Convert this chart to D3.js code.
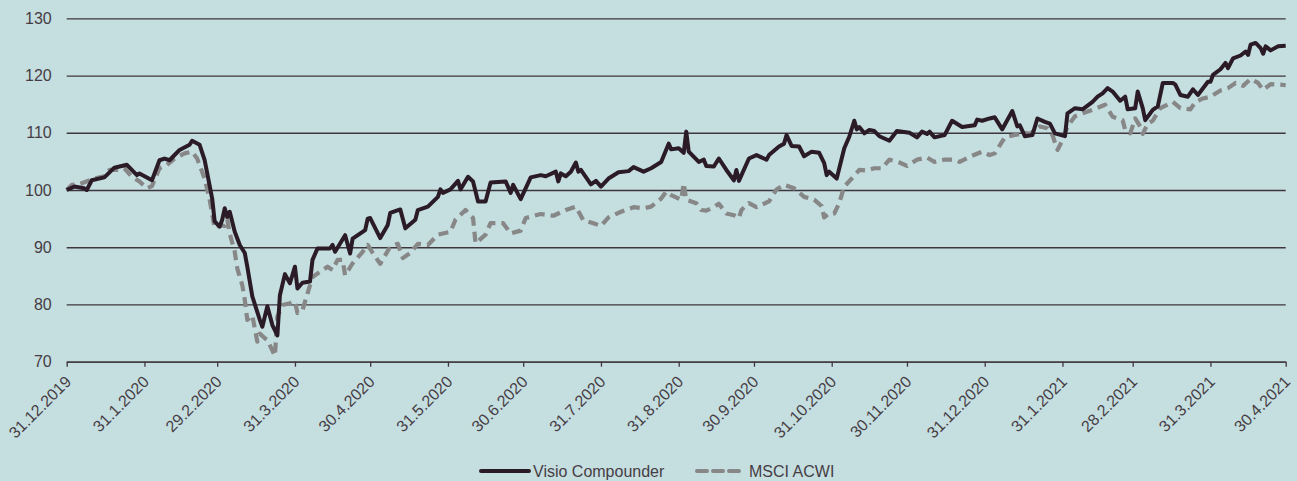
<!DOCTYPE html>
<html lang="de">
  <head>
    <meta charset="utf-8">
    <title>Visio Compounder vs MSCI ACWI</title>
    <script src="https://d3js.org/d3.v7.min.js"></script>
    <style>
      body { margin: 0; background: #c5dee0; }
      svg text { font-family: "Liberation Sans", Arial, sans-serif; fill: #463d44; font-size: 16px; }
    </style>
  </head>
  <body>
    <div id="chart"></div>
    <script>

      var tickDates = ["2019-12-31", "2020-01-31", "2020-02-29", "2020-03-31", "2020-04-30", "2020-05-31",
        "2020-06-30", "2020-07-31", "2020-08-31", "2020-09-30", "2020-10-31", "2020-11-30",
        "2020-12-31", "2021-01-31", "2021-02-28", "2021-03-31", "2021-04-30"];
      var yTicks = [70, 80, 90, 100, 110, 120, 130];
      var seriesNames = ["Visio Compounder", "MSCI ACWI"];

      var visio = [
        ["2019-12-31",100],["2020-01-03",100.6],["2020-01-07",100.3],["2020-01-08",100],["2020-01-10",101.7],
        ["2020-01-15",102.2],["2020-01-19",103.9],["2020-01-24",104.4],["2020-01-28",102.6],["2020-01-29",102.9],
        ["2020-02-03",101.7],["2020-02-06",105.2],["2020-02-08",105.5],["2020-02-10",105.2],["2020-02-14",107],
        ["2020-02-18",107.9],["2020-02-19",108.6],["2020-02-22",107.9],["2020-02-24",105.2],["2020-02-27",98.5],
        ["2020-02-28",94.5],["2020-03-01",93.6],["2020-03-02",94.8],["2020-03-03",96.8],["2020-03-04",95.3],
        ["2020-03-05",96.2],["2020-03-07",92.7],["2020-03-09",90.4],["2020-03-11",89],["2020-03-12",86.6],
        ["2020-03-14",81.4],["2020-03-17",77.3],["2020-03-18",76.1],["2020-03-20",79.7],["2020-03-22",76.4],
        ["2020-03-24",74.6],["2020-03-25",81.6],["2020-03-27",85.3],["2020-03-29",83.7],["2020-03-31",86.6],
        ["2020-04-01",82.8],["2020-04-03",83.8],["2020-04-06",84],["2020-04-07",87.8],["2020-04-09",89.8],
        ["2020-04-14",89.8],["2020-04-15",90.4],["2020-04-16",89.2],["2020-04-20",92.1],["2020-04-22",88.9],
        ["2020-04-23",91.5],["2020-04-28",93],["2020-04-29",95],["2020-04-30",95.1],["2020-05-04",91.6],
        ["2020-05-07",93.9],["2020-05-08",96],["2020-05-12",96.6],["2020-05-14",93.3],["2020-05-18",94.8],
        ["2020-05-19",96.5],["2020-05-23",97.1],["2020-05-27",98.8],["2020-05-28",100.1],["2020-05-29",99.5],
        ["2020-06-01",100.1],["2020-06-04",101.6],["2020-06-05",100.1],["2020-06-08",102.3],["2020-06-10",101.5],
        ["2020-06-12",98],["2020-06-15",98],["2020-06-17",101.3],["2020-06-23",101.5],["2020-06-25",99.5],
        ["2020-06-26",100.9],["2020-06-29",98.4],["2020-07-03",102.2],["2020-07-07",102.6],["2020-07-09",102.4],
        ["2020-07-13",103.2],["2020-07-14",101.5],["2020-07-15",102.9],["2020-07-17",102.4],["2020-07-19",103.2],
        ["2020-07-21",104.8],["2020-07-22",103.2],["2020-07-23",103.5],["2020-07-27",101],["2020-07-29",101.6],
        ["2020-07-31",100.6],["2020-08-03",102],["2020-08-07",103.1],["2020-08-11",103.3],["2020-08-13",104],
        ["2020-08-17",103.2],["2020-08-20",103.8],["2020-08-24",104.9],["2020-08-27",108.1],["2020-08-28",107.1],
        ["2020-08-31",107.3],["2020-09-02",106.5],["2020-09-03",110.2],["2020-09-04",106.7],["2020-09-08",104.9],
        ["2020-09-10",105.3],["2020-09-11",104.2],["2020-09-14",104.1],["2020-09-16",105.5],["2020-09-19",103.5],
        ["2020-09-22",101.7],["2020-09-23",103.5],["2020-09-24",101.6],["2020-09-28",105.5],["2020-10-01",106.1],
        ["2020-10-05",105.3],["2020-10-06",106.1],["2020-10-10",107.6],["2020-10-12",108.1],["2020-10-13",109.6],
        ["2020-10-15",107.7],["2020-10-18",107.6],["2020-10-20",105.9],["2020-10-23",106.7],["2020-10-26",106.5],
        ["2020-10-28",104.7],["2020-10-29",102.6],["2020-10-30",103.2],["2020-11-02",102],["2020-11-05",107.3],
        ["2020-11-07",109.3],["2020-11-09",112.1],["2020-11-10",110.6],["2020-11-11",111],["2020-11-13",109.9],
        ["2020-11-15",110.5],["2020-11-17",110.3],["2020-11-19",109.4],["2020-11-23",108.6],["2020-11-26",110.3],
        ["2020-12-01",110],["2020-12-04",109.2],["2020-12-06",110.2],["2020-12-08",109.8],["2020-12-09",110.2],
        ["2020-12-11",109.2],["2020-12-15",109.6],["2020-12-18",112.1],["2020-12-22",111],["2020-12-27",111.3],
        ["2020-12-28",112.3],["2020-12-30",112.1],["2021-01-02",112.5],["2021-01-04",112.7],["2021-01-07",110.6],
        ["2021-01-11",113.8],["2021-01-13",111.1],["2021-01-14",111.3],["2021-01-16",109.4],["2021-01-19",109.6],
        ["2021-01-21",112.5],["2021-01-24",111.9],["2021-01-26",111.6],["2021-01-28",109.9],["2021-02-01",109.4],
        ["2021-02-02",113.4],["2021-02-05",114.3],["2021-02-08",114.1],["2021-02-12",115.4],["2021-02-14",116.3],
        ["2021-02-16",116.9],["2021-02-18",117.8],["2021-02-20",117.2],["2021-02-23",115.6],["2021-02-25",116.3],
        ["2021-02-26",114.1],["2021-03-01",114.3],["2021-03-02",117.2],["2021-03-04",114.3],["2021-03-05",112.2],
        ["2021-03-08",114],["2021-03-10",114.6],["2021-03-12",118.7],["2021-03-16",118.7],["2021-03-17",118.4],
        ["2021-03-19",116.6],["2021-03-22",116.3],["2021-03-24",117.6],["2021-03-26",116.6],["2021-03-30",118.9],
        ["2021-03-31",118.9],["2021-04-01",120.1],["2021-04-04",121.1],["2021-04-06",122.2],["2021-04-07",121.3],
        ["2021-04-09",123],["2021-04-12",123.5],["2021-04-14",124.2],["2021-04-15",123.6],["2021-04-16",125.4],
        ["2021-04-18",125.7],["2021-04-20",124.8],["2021-04-21",123.8],["2021-04-22",125.1],["2021-04-24",124.4],
        ["2021-04-27",125.1],["2021-04-30",125.2]];

      var msci = [
        ["2019-12-31",100],["2020-01-02",100.9],["2020-01-05",101],["2020-01-11",102],["2020-01-15",102.4],
        ["2020-01-17",103.5],["2020-01-21",103.5],["2020-01-23",103.8],["2020-01-26",102.3],["2020-01-29",101.5],
        ["2020-02-01",100.3],["2020-02-03",100.7],["2020-02-06",103.8],["2020-02-09",104.4],["2020-02-12",105.5],
        ["2020-02-16",106.4],["2020-02-19",106.7],["2020-02-21",105.5],["2020-02-24",102],["2020-02-26",98.3],
        ["2020-02-28",93.3],["2020-03-01",93.9],["2020-03-03",93.7],["2020-03-04",94.9],["2020-03-05",92.4],
        ["2020-03-07",89.2],["2020-03-08",86.3],["2020-03-09",84.8],["2020-03-10",83.4],["2020-03-11",80.8],
        ["2020-03-12",77.3],["2020-03-14",78.1],["2020-03-16",73.5],["2020-03-17",74.9],["2020-03-19",74.1],
        ["2020-03-20",73.8],["2020-03-23",71],["2020-03-24",77.9],["2020-03-26",79.9],["2020-03-29",80.2],
        ["2020-03-31",80.5],["2020-04-01",78.5],["2020-04-03",79],["2020-04-05",81.9],["2020-04-07",84.8],
        ["2020-04-10",85.7],["2020-04-13",86.6],["2020-04-15",86],["2020-04-17",87.8],["2020-04-19",87.8],
        ["2020-04-20",85.1],["2020-04-23",87.2],["2020-04-27",89.2],["2020-04-29",90.4],["2020-05-01",89],
        ["2020-05-04",87.1],["2020-05-08",90.1],["2020-05-11",90.6],["2020-05-13",88.1],["2020-05-16",89],
        ["2020-05-19",90.6],["2020-05-23",90.4],["2020-05-27",92.2],["2020-06-01",92.7],["2020-06-03",94.8],
        ["2020-06-07",96.5],["2020-06-10",95.1],["2020-06-11",90.7],["2020-06-15",92.2],["2020-06-17",94.2],
        ["2020-06-22",94.2],["2020-06-25",92.4],["2020-06-29",92.9],["2020-07-01",95.1],["2020-07-07",95.8],
        ["2020-07-12",95.5],["2020-07-17",96.5],["2020-07-21",97.1],["2020-07-24",94.7],["2020-07-28",94.2],
        ["2020-07-31",93.7],["2020-08-03",95.2],["2020-08-08",96.2],["2020-08-13",97],["2020-08-17",96.8],
        ["2020-08-20",97.1],["2020-08-24",98.5],["2020-08-26",99.7],["2020-08-28",99.1],["2020-09-01",98.3],
        ["2020-09-02",101.2],["2020-09-03",98.3],["2020-09-07",97.7],["2020-09-09",96.5],["2020-09-11",96.4],
        ["2020-09-14",97],["2020-09-16",97.6],["2020-09-19",95.9],["2020-09-22",95.6],["2020-09-24",95.1],
        ["2020-09-25",96.5],["2020-09-28",97.7],["2020-10-01",97],["2020-10-06",98],["2020-10-09",100.1],
        ["2020-10-12",100.9],["2020-10-16",100.3],["2020-10-20",98.8],["2020-10-24",98.3],["2020-10-27",97.2],
        ["2020-10-28",95.2],["2020-10-30",95.9],["2020-11-01",95.9],["2020-11-03",97.7],["2020-11-05",100.6],
        ["2020-11-08",102],["2020-11-11",103.5],["2020-11-14",103.4],["2020-11-17",103.8],["2020-11-20",103.8],
        ["2020-11-23",105.3],["2020-11-27",104.8],["2020-11-30",104.2],["2020-12-04",105.3],["2020-12-08",105.7],
        ["2020-12-11",104.9],["2020-12-15",105.3],["2020-12-19",105.3],["2020-12-21",104.9],["2020-12-25",105.8],
        ["2020-12-30",106.7],["2021-01-02",106.1],["2021-01-04",106.4],["2021-01-06",107.8],["2021-01-08",109.2],
        ["2021-01-12",109.6],["2021-01-16",110],["2021-01-18",109.8],["2021-01-20",110.5],["2021-01-22",111.1],
        ["2021-01-25",110.8],["2021-01-27",109.6],["2021-01-29",107],["2021-01-31",108.7],["2021-02-02",111.1],
        ["2021-02-05",112.9],["2021-02-08",113.4],["2021-02-12",114],["2021-02-17",114.9],["2021-02-20",112.8],
        ["2021-02-24",112.2],["2021-02-25",110.5],["2021-02-27",109.9],["2021-03-01",112.5],["2021-03-03",111.1],
        ["2021-03-04",109.8],["2021-03-06",111.6],["2021-03-08",112.1],["2021-03-11",114.3],["2021-03-16",115.4],
        ["2021-03-19",114.3],["2021-03-23",114.1],["2021-03-25",115.4],["2021-03-28",116],["2021-03-31",116.3],
        ["2021-04-04",117.4],["2021-04-07",117.8],["2021-04-10",118.7],["2021-04-13",118.2],["2021-04-16",119.4],
        ["2021-04-19",118.7],["2021-04-21",117.5],["2021-04-24",118.5],["2021-04-28",118.4],["2021-04-30",118.3]];

      var width = 1297;
      var height = 481;
      var margin = {top: 18.3, left: 66.7, right: 11.3, bottom: 119.3};

      var parseDate = d3.timeParse("%Y-%m-%d");
      var formatTick = d3.timeFormat("%-d.%-m.%Y");

      var svg = d3.select("#chart")
        .append("svg")
        .attr("width", width)
        .attr("height", height);

      var xScale = d3.scaleTime()
        .domain([parseDate(tickDates[0]), parseDate(tickDates[tickDates.length - 1])])
        .range([margin.left, width - margin.right]);

      var yScale = d3.scaleLinear()
        .domain([70, 130])
        .range([height - margin.bottom, margin.top]);

      // horizontal grid with value labels
      var yAxis = svg.append("g")
        .attr("transform", `translate(${margin.left},0)`)
        .call(d3.axisLeft(yScale).tickValues(yTicks)
          .tickSize(-(width - margin.left - margin.right))
          .tickPadding(15));
      yAxis.select(".domain").remove();
      yAxis.selectAll(".tick line").attr("stroke", "#3f363d").attr("stroke-width", 1.3);
      yAxis.selectAll(".tick text").attr("font-size", 16.5).attr("fill", "#463d44");

      // bottom axis with rotated month-end labels
      var xAxis = svg.append("g")
        .attr("transform", `translate(0,${height - margin.bottom})`)
        .call(d3.axisBottom(xScale)
          .tickValues(tickDates.map(parseDate))
          .tickFormat(formatTick)
          .tickSize(5)
          .tickSizeOuter(0));
      xAxis.select(".domain").attr("stroke", "#3f363d").attr("stroke-width", 1.3);
      xAxis.selectAll(".tick line").attr("stroke", "#3f363d").attr("stroke-width", 1.3);
      xAxis.selectAll(".tick text")
        .attr("font-size", 16.5)
        .attr("fill", "#463d44")
        .attr("y", 0)
        .attr("dy", 0)
        .style("text-anchor", "end")
        .attr("transform", "translate(5,21) rotate(-45)");

      var line = d3.line()
        .x(function(d){ return xScale(parseDate(d[0])); })
        .y(function(d){ return yScale(d[1]); })
        .curve(d3.curveLinear);

      svg.append("path")
        .datum(msci)
        .attr("fill", "none")
        .attr("stroke", "#878787")
        .attr("stroke-width", 4.2)
        .attr("stroke-dasharray", "10,6")
        .attr("stroke-linejoin", "round")
        .attr("d", line);

      svg.append("path")
        .datum(visio)
        .attr("fill", "none")
        .attr("stroke", "#2b1b27")
        .attr("stroke-width", 4)
        .attr("stroke-linejoin", "round")
        .attr("d", line);

      // legend
      var legend = svg.append("g").attr("transform", "translate(481,471)");
      var items = [
        {name: seriesNames[0], x: 0, len: 48, gap: 4, stroke: "#2b1b27", dash: null},
        {name: seriesNames[1], x: 216, len: 42, gap: 10, stroke: "#878787", dash: "10,6"}
      ];
      items.forEach(function(it){
        legend.append("line")
          .attr("x1", it.x).attr("x2", it.x + it.len)
          .attr("y1", 0).attr("y2", 0)
          .attr("stroke", it.stroke)
          .attr("stroke-width", 4)
          .attr("stroke-linecap", "round")
          .attr("stroke-dasharray", it.dash);
        legend.append("text")
          .attr("x", it.x + it.len + it.gap)
          .attr("y", 6)
          .attr("font-size", 17)
          .text(it.name);
      });

    </script>
  </body>
</html>
